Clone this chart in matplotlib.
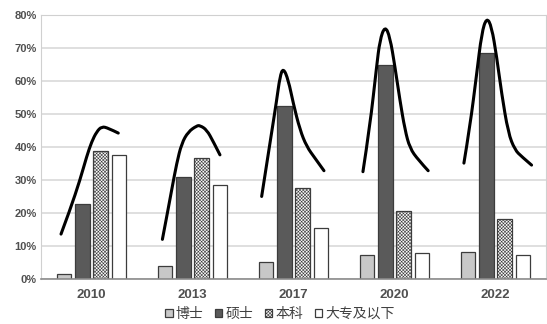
import matplotlib.pyplot as plt
import numpy as np
from matplotlib.path import Path
from matplotlib.patches import PathPatch

plt.rcParams['font.family'] = ['Liberation Sans', 'Noto Sans CJK SC', 'DejaVu Sans']
plt.rcParams['hatch.linewidth'] = 0.4
plt.rcParams['hatch.color'] = '#9a9a9a'

# 各年份学历构成（%）
years = ['2010', '2013', '2017', '2020', '2022']
labels = ['博士', '硕士', '本科', '大专及以下']
phd = [1.5, 4.0, 5.1, 7.3, 8.2]
master = [22.6, 30.9, 52.4, 64.8, 68.4]
bachelor = [38.7, 36.7, 27.7, 20.6, 18.2]
college = [37.6, 28.5, 15.4, 7.9, 7.2]

# 手绘趋势曲线：相对组中心的横向偏移与纵向百分比
curve_dx = [
    [-0.302, -0.213, -0.114, -0.048, 0.002, 0.051, 0.101, 0.166, 0.265],
    [-0.298, -0.255, -0.206, -0.156, -0.107, -0.042, 0.042, 0.074, 0.141, 0.206, 0.272],
    [-0.315, -0.233, -0.166, -0.134, -0.101, -0.051, -0.002, 0.064, 0.131, 0.213, 0.302],
    [-0.312, -0.243, -0.177, -0.144, -0.094, -0.045, 0.005, 0.054, 0.104, 0.153, 0.235, 0.334],
    [-0.312, -0.252, -0.185, -0.136, -0.087, -0.038, 0.012, 0.061, 0.127, 0.193, 0.259, 0.358],
]
curve_y = [
    [13.6, 20.9, 30.0, 37.1, 41.6, 44.6, 46.2, 45.7, 44.2],
    [12.0, 18.9, 27.0, 35.1, 41.1, 44.6, 46.4, 46.5, 45.2, 41.6, 37.6],
    [25.0, 41.1, 54.2, 61.3, 64.0, 60.3, 53.2, 45.2, 40.1, 36.6, 32.8],
    [32.5, 46.2, 64.3, 72.4, 76.7, 73.4, 64.3, 54.2, 45.2, 39.6, 36.1, 32.8],
    [35.1, 46.2, 62.3, 74.5, 79.3, 76.5, 67.4, 56.3, 44.2, 39.1, 37.1, 34.5],
]

series = [phd, master, bachelor, college]
fills = ['#c8c8c8', '#5a5a5a', '#f8f8f8', 'white']
hatches = [None, None, 'xxxxxxxxxx', None]


def smooth_path(px, py):
    # 以读取点为二次贝塞尔控制点，经过相邻点的中点
    pts = [(px[0], py[0])]
    codes = [Path.MOVETO]
    for k in range(1, len(px) - 1):
        mx = (px[k] + px[k + 1]) / 2
        my = (py[k] + py[k + 1]) / 2
        if k == len(px) - 2:
            mx, my = px[-1], py[-1]
        pts += [(px[k], py[k]), (mx, my)]
        codes += [Path.CURVE3, Path.CURVE3]
    return Path(pts, codes)


fig = plt.figure(figsize=(5.47, 3.24), dpi=100)
ax = fig.add_axes([0.075, 0.139, 0.923, 0.815])

x = np.arange(len(years))
w = 0.144
step = 0.181
for i, (vals, fc, h) in enumerate(zip(series, fills, hatches)):
    ax.bar(x + (i - 1.5) * step, vals, w, color=fc, edgecolor='#3c3c3c',
           linewidth=0.9, hatch=h, label=labels[i], zorder=2)

for g in range(len(years)):
    p = smooth_path(x[g] + np.array(curve_dx[g]), curve_y[g])
    ax.add_patch(PathPatch(p, facecolor='none', edgecolor='black', lw=2.2,
                           capstyle='round', joinstyle='round', zorder=3))

ax.set_xlim(-0.5, 4.5)
ax.set_ylim(0, 80)
ax.set_yticks(range(0, 81, 10))
ax.set_yticklabels([f'{v}%' for v in range(0, 81, 10)])
ax.set_xticks(x)
ax.set_xticklabels(years)
ax.grid(axis='y', color='#d9d9d9', lw=1.2, zorder=0)
ax.set_axisbelow(True)
for s in ['top', 'right', 'left']:
    ax.spines[s].set_color('#d0d0d0')
ax.spines['bottom'].set_color('#8c8c8c')
ax.spines['bottom'].set_linewidth(1.2)
ax.tick_params(length=0, colors='#505050')
for t in ax.get_yticklabels():
    t.set_fontsize(8)
    t.set_fontweight('bold')
for t in ax.get_xticklabels():
    t.set_fontsize(9.5)
    t.set_fontweight('bold')
ax.tick_params(axis='x', pad=7)
ax.tick_params(axis='y', pad=3)

leg = fig.legend(loc='center', bbox_to_anchor=(0.512, 0.031), ncol=4, frameon=False,
                 handlelength=0.55, handleheight=0.55, handletextpad=0.25,
                 columnspacing=0.8, prop={'family': ['Noto Sans CJK SC'], 'size': 10})
for t in leg.get_texts():
    t.set_color('#404040')

fig.savefig('out.png', dpi=100)
